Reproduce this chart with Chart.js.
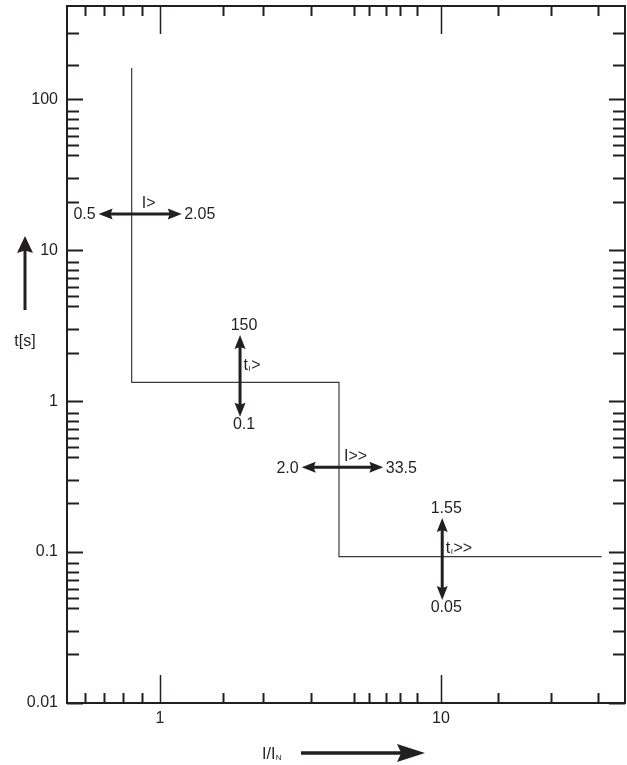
<!DOCTYPE html>
<html>
<head>
<meta charset="utf-8">
<script src="https://cdn.jsdelivr.net/npm/chart.js@4.4.1/dist/chart.umd.min.js"></script>
<style>
  html, body { margin: 0; padding: 0; background: #fff; }
  #wrap { width: 627px; height: 765px; position: relative; }
</style>
</head>
<body>
<div id="wrap"><canvas id="curve"></canvas></div>
<script>
// tripping curve, t[s] over I/IN
const curveX = [0.793, 0.793, 4.335, 4.335, 37.3];
const curveY = [161, 1.333, 1.333, 0.0932, 0.0932];

// axis ranges
const xMin = 0.4668, xMax = 45.16;
const yMin = 0.01, yMax = 415;

// tick marks where they sit on the drawing (minor marks are not quite at 2..9)
const xTicks = [0.54, 0.63, 0.74, 0.86, 1, 1.67, 2.33, 3.44, 4.9, 5.56, 6.37, 7.15, 8.2, 10, 15.9, 24.6, 36.3];
const xMajor = [1, 10];
const xMajorLabels = ['1', '10'];
const yMajor = [0.01, 0.1, 1, 10, 100];
const yMajorLabels = ['0.01', '0.1', '1', '10', '100'];
const yMinorSteps = [2.1, 3, 4.25, 5, 5.7, 6.5, 7.4, 8.4];
const yTopTicks = [170, 275];

// setting range arrows: start / end point, low / high value, name (main, subscript, rest)
const arrowStart = [[0.605, 17.38], [1.927, 0.789], [3.194, 0.3645], [10.1, 0.0481]];
const arrowEnd = [[1.195, 17.38], [1.927, 2.744], [6.233, 0.3645], [10.1, 0.168]];
const arrowLow = ['0.5', '0.1', '2.0', '0.05'];
const arrowHigh = ['2.05', '150', '33.5', '1.55'];
const arrowName = [['I>', '', ''], ['t', 'I', '>'], ['I>>', '', ''], ['t', 'I', '>>']];

const yTicks = [];
yMajor.forEach((d, i) => {
  yTicks.push(d);
  if (i < yMajor.length - 1) yMinorSteps.forEach(m => yTicks.push(+(d * m).toPrecision(4)));
});
yTopTicks.forEach(v => yTicks.push(v));

const ink = '#231f20';
const face = '"Liberation Sans", Arial, Helvetica, sans-serif';

function head(ctx, x, y, dx, dy, len, half) {
  const bx = x - dx * len, by = y - dy * len;
  const nx = -dy, ny = dx;
  ctx.beginPath();
  ctx.moveTo(x, y);
  ctx.lineTo(bx + nx * half, by + ny * half);
  ctx.lineTo(x - dx * len * 0.85, y - dy * len * 0.85);
  ctx.lineTo(bx - nx * half, by - ny * half);
  ctx.closePath();
  ctx.fill();
}

function arrow(ctx, x1, y1, x2, y2, len, half, width, both) {
  const d = Math.hypot(x2 - x1, y2 - y1);
  const dx = (x2 - x1) / d, dy = (y2 - y1) / d;
  const s = both ? len * 0.7 : 0;
  ctx.lineWidth = width;
  ctx.beginPath();
  ctx.moveTo(x1 + dx * s, y1 + dy * s);
  ctx.lineTo(x2 - dx * len * 0.7, y2 - dy * len * 0.7);
  ctx.stroke();
  head(ctx, x2, y2, dx, dy, len, half);
  if (both) head(ctx, x1, y1, -dx, -dy, len, half);
}

function subText(ctx, parts, x, y, size, subSize) {
  ctx.textAlign = 'left';
  ctx.textBaseline = 'alphabetic';
  ctx.font = size + 'px ' + face;
  ctx.fillText(parts[0], x, y);
  x += ctx.measureText(parts[0]).width;
  if (parts[1]) {
    ctx.font = subSize + 'px ' + face;
    ctx.fillText(parts[1], x + 0.5, y + 1);
    x += ctx.measureText(parts[1]).width + 1;
  }
  if (parts[2]) {
    ctx.font = size + 'px ' + face;
    ctx.fillText(parts[2], x, y);
  }
}

const frame = {
  id: 'frame',
  afterDatasetsDraw(chart) {
    const { ctx, chartArea: a, scales: { x, y } } = chart;
    ctx.save();
    ctx.strokeStyle = ink;
    ctx.fillStyle = ink;
    ctx.lineCap = 'butt';

    // box
    ctx.lineWidth = 2;
    ctx.strokeRect(a.left, a.top, a.right - a.left, a.bottom - a.top);

    // inward ticks on all four sides
    xTicks.forEach(v => {
      const px = Math.round(x.getPixelForValue(v)) + 0.5;
      const major = xMajor.includes(v);
      const len = major ? 28 : 10;
      ctx.lineWidth = major ? 1.5 : 2;
      ctx.beginPath();
      ctx.moveTo(px, a.bottom); ctx.lineTo(px, a.bottom - len);
      ctx.moveTo(px, a.top); ctx.lineTo(px, a.top + len);
      ctx.stroke();
    });
    yTicks.forEach(v => {
      const py = Math.round(y.getPixelForValue(v)) + 0.5;
      const len = yMajor.includes(v) ? 16 : 12;
      ctx.lineWidth = 2;
      ctx.beginPath();
      ctx.moveTo(a.left, py); ctx.lineTo(a.left + len, py);
      ctx.moveTo(a.right, py); ctx.lineTo(a.right - len, py);
      ctx.stroke();
    });

    // setting range arrows
    arrowStart.forEach((p, i) => {
      const x1 = x.getPixelForValue(p[0]), y1 = y.getPixelForValue(p[1]);
      const x2 = x.getPixelForValue(arrowEnd[i][0]), y2 = y.getPixelForValue(arrowEnd[i][1]);
      arrow(ctx, x1, y1, x2, y2, 14, 5.5, 3, true);
      ctx.font = '16px ' + face;
      if (y1 === y2) {
        ctx.textBaseline = 'middle';
        ctx.textAlign = 'right';
        ctx.fillText(arrowLow[i], x1 - 3, y1 + 1);
        ctx.textAlign = 'left';
        ctx.fillText(arrowHigh[i], x2 + 2.5, y1 + 1);
        subText(ctx, arrowName[i], (x1 + x2) / 2 + 1.5, y1 - 6, 16, 8);
      } else {
        ctx.textBaseline = 'middle';
        ctx.textAlign = 'center';
        ctx.fillText(arrowLow[i], x1 + 4, y1 + 8);
        ctx.fillText(arrowHigh[i], x2 + 4, y2 - 9);
        subText(ctx, arrowName[i], x1 + 3.5, (y1 + y2) / 2 - 6, 16, 8);
      }
    });

    // axis titles with their arrows
    const ty = a.left - 42;
    arrow(ctx, ty, 310, ty, 236, 17, 8, 3, false);
    ctx.font = '16px ' + face;
    ctx.textAlign = 'center';
    ctx.textBaseline = 'middle';
    ctx.fillText('t[s]', ty, 342);

    const tx = a.bottom + 50;
    subText(ctx, ['I/I', 'N', ''], 262, tx + 6, 16, 8);
    arrow(ctx, 301, tx, 425, tx, 28, 9, 3.5, false);
    ctx.restore();
  }
};

new Chart(document.getElementById('curve'), {
  type: 'scatter',
  data: {
    datasets: [{
      data: curveX.map((v, i) => ({ x: v, y: curveY[i] })),
      showLine: true,
      borderColor: '#3a3a3a',
      borderWidth: 1.2,
      pointRadius: 0,
      tension: 0
    }]
  },
  options: {
    responsive: true,
    maintainAspectRatio: false,
    animation: false,
    layout: { padding: { top: 6, right: 2, left: 0, bottom: 0 } },
    plugins: { legend: { display: false }, tooltip: { enabled: false } },
    scales: {
      x: {
        type: 'logarithmic',
        min: xMin,
        max: xMax,
        grid: { display: false, drawTicks: false },
        border: { display: false },
        afterBuildTicks: s => { s.ticks = xTicks.map(v => ({ value: v })); },
        afterFit: s => { s.height = 62; s.paddingLeft = 0; s.paddingRight = 0; },
        ticks: {
          autoSkip: false,
          maxRotation: 0,
          padding: 6,
          color: ink,
          font: { family: face, size: 16 },
          callback: v => { const i = xMajor.indexOf(v); return i < 0 ? '' : xMajorLabels[i]; }
        }
      },
      y: {
        type: 'logarithmic',
        min: yMin,
        max: yMax,
        grid: { display: false, drawTicks: false },
        border: { display: false },
        afterBuildTicks: s => { s.ticks = yTicks.map(v => ({ value: v })); },
        afterFit: s => { s.width = 67; s.paddingTop = 0; s.paddingBottom = 0; },
        ticks: {
          autoSkip: false,
          padding: 9,
          color: ink,
          font: { family: face, size: 16 },
          callback: v => { const i = yMajor.indexOf(v); return i < 0 ? '' : yMajorLabels[i]; }
        }
      }
    }
  },
  plugins: [frame]
});
</script>
</body>
</html>
